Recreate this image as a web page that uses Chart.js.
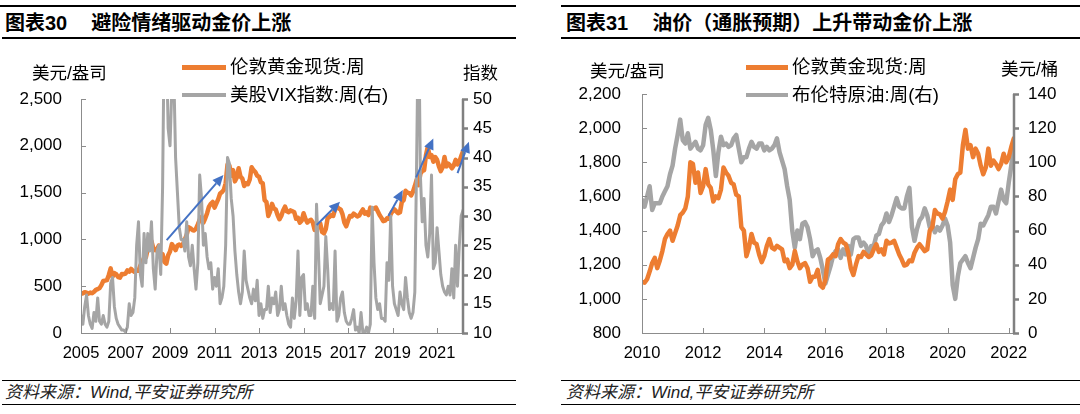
<!DOCTYPE html>
<html>
<head>
<meta charset="utf-8">
<script src="https://cdn.jsdelivr.net/npm/chart.js@4.4.1/dist/chart.umd.min.js"></script>
<style>
  body { margin: 0; width: 1080px; height: 414px; background: #fff; position: relative; overflow: hidden;
         font-family: "Liberation Sans", "Noto Sans CJK SC", sans-serif; color: #000; }
  .abs { position: absolute; white-space: nowrap; }
  .rule { position: absolute; background: #000; }
  .title { font-weight: bold; font-size: 20px; line-height: 20px; }
  .unit { font-size: 17.5px; line-height: 18px; }
  .leg { font-size: 18.5px; line-height: 20px; }
  .src { font-style: italic; font-size: 17px; line-height: 18px; color: #222; }
  canvas { position: absolute; }
</style>
</head>
<body>

<!-- left panel -->
<div class="rule" style="left:0;top:5px;width:516px;height:2px"></div>
<div class="abs title" style="left:5px;top:13px">图表30<span style="margin-left:24px">避险情绪驱动金价上涨</span></div>
<div class="rule" style="left:2px;top:37px;width:514px;height:1.5px"></div>
<canvas id="goldVix" width="520" height="330" style="left:0;top:40px"></canvas>
<div class="abs unit" style="left:32px;top:64px">美元/盎司</div>
<div class="abs unit" style="left:463px;top:64px">指数</div>
<div class="abs" style="left:182px;top:64.5px;width:44px;height:5px;background:#ED7D31"></div>
<div class="abs leg" style="left:230px;top:57px">伦敦黄金现货:周</div>
<div class="abs" style="left:182px;top:93px;width:44px;height:4px;background:#A5A5A5"></div>
<div class="abs leg" style="left:230px;top:85px">美股VIX指数:周(右)</div>
<div class="rule" style="left:2px;top:379.5px;width:514px;height:1.5px"></div>
<div class="abs src" style="left:5px;top:384px">资料来源：Wind,平安证券研究所</div>
<div class="rule" style="left:2px;top:403.5px;width:514px;height:1.5px"></div>

<!-- right panel -->
<div class="rule" style="left:561px;top:5px;width:519px;height:2px"></div>
<div class="abs title" style="left:566px;top:13px">图表31<span style="margin-left:24px">油价（通胀预期）上升带动金价上涨</span></div>
<div class="rule" style="left:561px;top:37px;width:519px;height:1.5px"></div>
<canvas id="goldOil" width="520" height="330" style="left:560px;top:40px"></canvas>
<div class="abs unit" style="left:590px;top:62px">美元/盎司</div>
<div class="abs unit" style="left:1001px;top:60px">美元/桶</div>
<div class="abs" style="left:746px;top:64.5px;width:42px;height:5px;background:#ED7D31"></div>
<div class="abs leg" style="left:792px;top:57px">伦敦黄金现货:周</div>
<div class="abs" style="left:746px;top:93px;width:42px;height:4px;background:#A5A5A5"></div>
<div class="abs leg" style="left:792px;top:85px">布伦特原油:周(右)</div>
<div class="rule" style="left:561px;top:379.5px;width:519px;height:1.5px"></div>
<div class="abs src" style="left:566px;top:384px">资料来源：Wind,平安证券研究所</div>
<div class="rule" style="left:561px;top:403.5px;width:519px;height:1.5px"></div>

<script>
// monthly samples, first value = Jan 2005
const goldStart = 2005;
const gold = [
  427, 422, 436, 430, 420, 432, 425, 440, 460, 468, 480, 512,
  555, 560, 565, 620, 690, 600, 640, 628, 598, 592, 630, 628,
  635, 668, 655, 685, 664, 652, 668, 665, 720, 760, 800, 810,
  900, 930, 980, 905, 885, 895, 935, 830, 840, 760, 740, 830,
  870, 950, 920, 885, 935, 945, 930, 950, 1000, 1050, 1130, 1120,
  1100, 1095, 1115, 1160, 1210, 1240, 1180, 1225, 1280, 1350, 1380, 1400,
  1340, 1385, 1430, 1490, 1505, 1530, 1600, 1800, 1790, 1680, 1740, 1620,
  1660, 1760, 1670, 1650, 1570, 1600, 1590, 1640, 1770, 1740, 1720, 1680,
  1670, 1610, 1600, 1420, 1400, 1250, 1300, 1380, 1330, 1320, 1260, 1215,
  1250, 1310, 1350, 1300, 1290, 1310, 1300, 1290, 1220, 1230, 1180, 1200,
  1280, 1220, 1180, 1200, 1210, 1180, 1100, 1130, 1130, 1170, 1080, 1065,
  1110, 1230, 1240, 1260, 1250, 1320, 1350, 1330, 1320, 1270, 1180, 1140,
  1200, 1250, 1245, 1275, 1260, 1245, 1255, 1290, 1320, 1275, 1290, 1260,
  1340, 1325, 1330, 1340, 1300, 1260, 1230, 1195, 1200, 1225, 1220, 1270,
  1300, 1320, 1300, 1280, 1290, 1400, 1420, 1520, 1500, 1495, 1470, 1510,
  1570, 1640, 1580, 1700, 1730, 1740, 1900, 1990, 1880, 1900, 1830, 1880,
  1850, 1780, 1730, 1770, 1880, 1780, 1810, 1790, 1760, 1790, 1850, 1800,
  1830, 1890, 1940
];
const vix = [
  13, 11.5, 14.5, 16.5, 13, 11.5, 10.8, 13.5, 12, 16, 12, 11.5,
  13, 11.5, 11, 12, 18.5, 19.5, 14.5, 12.5, 11.5, 11, 10.5, 10.5,
  10.2, 11, 15, 13, 13.5, 16, 25, 29, 20, 18, 27, 22,
  27, 24, 29, 21, 17.5, 24, 25, 20, 35, 65, 60, 45,
  42, 52, 55, 40, 34, 28, 26, 26, 24, 29, 23, 21.5,
  25, 21, 17.5, 22, 37, 33, 25, 27, 23, 21, 22, 17.5,
  19.5, 18, 21, 15, 16, 18, 25, 40, 39, 33, 30, 24,
  20, 17, 15, 17, 24, 19, 17.5, 16, 15, 17.5, 15.5, 19,
  13, 15, 12.5, 14, 14, 18, 13.5, 16, 15, 17, 13, 14,
  18, 14, 15, 13, 11.5, 11, 16, 12.5, 15.5, 24, 13, 19.5,
  20, 14, 15, 13, 13, 18, 12.5, 32, 24, 15, 16.5, 18,
  26.5, 21, 14, 15, 14, 24, 12, 13, 16, 17, 13.5, 12,
  11.5, 11.5, 12.5, 14, 10.5, 11, 10, 13.5, 10, 10, 11, 10,
  11.5, 31.5, 22, 16, 14, 15, 12.5, 12.5, 12, 22, 19, 30,
  18, 15, 14, 13, 17, 15, 14, 19.5, 16, 13.5, 12.5, 13.5,
  17, 40, 66, 37, 29, 33, 25, 23, 27, 37, 21, 22,
  28, 24, 20, 18, 17, 16.5, 18, 16.5, 21, 16, 25, 18,
  25, 30, 31
];
// monthly samples, first value = Jan 2010
const brentStart = 2010;
const brent = [
  78, 74, 80, 86, 72, 76, 76, 76, 80, 83, 86, 93,
  98, 108, 116, 125, 113, 111, 117, 108, 110, 112, 108, 107,
  110, 122, 126, 119, 107, 92, 106, 115, 110, 111, 109, 110,
  114, 116, 108, 100, 103, 103, 108, 112, 109, 108, 111, 111,
  107, 109, 107, 108, 110, 114, 106, 101, 96, 86, 78, 60,
  50, 60, 55, 64, 65, 62, 55, 45, 48, 49, 44, 37,
  29, 34, 39, 45, 48, 49, 44, 49, 46, 51, 46, 55,
  56, 56, 51, 53, 51, 45, 51, 51, 57, 58, 63, 65,
  70, 65, 69, 74, 79, 74, 73, 73, 80, 85, 62, 54,
  61, 66, 68, 73, 69, 62, 63, 59, 62, 60, 63, 67,
  63, 53, 28, 20, 33, 41, 43, 45, 41, 38, 44, 50,
  55, 64, 63, 66, 69, 74, 74, 70, 77, 84, 78, 76,
  88, 98, 111
];

const leftYears = [2005, 2007, 2009, 2011, 2013, 2015, 2017, 2019, 2021];
const leftGoldTicks = [0, 500, 1000, 1500, 2000, 2500];
const vixTicks = [10, 15, 20, 25, 30, 35, 40, 45, 50];
const rightYears = [2010, 2012, 2014, 2016, 2018, 2020, 2022];
const rightGoldTicks = [800, 1000, 1200, 1400, 1600, 1800, 2000, 2200];
const brentTicks = [0, 20, 40, 60, 80, 100, 120, 140];

// blue arrows on the left chart: [fromYear, fromGold, toYear, toGold]
const arrows = [
  [2008.85, 993, 2011.40, 1687],
  [2015.59, 1153, 2016.64, 1402],
  [2018.81, 1250, 2019.46, 1527],
  [2020.06, 1663, 2020.83, 2079],
  [2021.92, 1709, 2022.43, 2043]
];

const ORANGE = '#ED7D31';
const GRAY = '#A5A5A5';
const xFont = { family: 'Liberation Sans', size: 16.5 };
const yFont = { family: 'Liberation Sans', size: 17 };

function monthly(arr, start) {
  return arr.map((v, i) => ({ x: start + i / 12, y: v }));
}

function fixedTicks(list) {
  return scale => { scale.ticks = list.map(v => ({ value: v })); };
}

function axis(pos, min, max, list, width, padding, fmt) {
  return {
    position: pos, min, max,
    afterBuildTicks: fixedTicks(list),
    afterFit: s => { s.width = width; },
    grid: { display: false, drawTicks: false },
    border: { display: false },
    ticks: { font: yFont, color: '#000', padding, callback: fmt }
  };
}

function xAxis(min, max, list) {
  return {
    type: 'linear', min, max,
    afterBuildTicks: fixedTicks(list),
    afterFit: s => { s.height = 37; },
    grid: { display: false, drawTicks: false },
    border: { display: false },
    ticks: { font: xFont, color: '#000', padding: 11, maxRotation: 0, autoSkip: false, callback: v => String(v) }
  };
}

const comma = v => v.toLocaleString('en-US');

// axis lines and short tick marks like the Excel original
const axesPlugin = {
  id: 'axesLines',
  afterDatasetsDraw(chart) {
    const ctx = chart.ctx, a = chart.chartArea;
    const x = chart.scales.x, yl = chart.scales.y, yr = chart.scales.y1;
    ctx.save();
    ctx.strokeStyle = '#8c8c8c';
    ctx.lineWidth = 1;
    ctx.beginPath();
    ctx.moveTo(a.left, a.bottom + 0.5); ctx.lineTo(a.right, a.bottom + 0.5);
    ctx.moveTo(a.left + 0.5, a.top); ctx.lineTo(a.left + 0.5, a.bottom);
    x.ticks.forEach(t => {
      const px = Math.round(x.getPixelForValue(t.value)) + 0.5;
      ctx.moveTo(px, a.bottom); ctx.lineTo(px, a.bottom - 5);
    });
    yl.ticks.forEach(t => {
      const py = Math.round(yl.getPixelForValue(t.value)) + 0.5;
      ctx.moveTo(a.left, py); ctx.lineTo(a.left + 5, py);
    });
    ctx.stroke();
    ctx.strokeStyle = '#808080';
    ctx.lineWidth = 2.5;
    ctx.beginPath();
    ctx.moveTo(a.right + 1, a.top); ctx.lineTo(a.right + 1, a.bottom + 1);
    yr.ticks.forEach(t => {
      const py = Math.round(yr.getPixelForValue(t.value)) + 0.5;
      ctx.moveTo(a.right, py); ctx.lineTo(a.right + 6, py);
    });
    ctx.stroke();
    ctx.restore();
  }
};

const arrowPlugin = {
  id: 'arrows',
  afterDraw(chart) {
    const ctx = chart.ctx, x = chart.scales.x, y = chart.scales.y;
    ctx.save();
    ctx.strokeStyle = '#4472C4';
    ctx.fillStyle = '#4472C4';
    ctx.lineWidth = 2;
    arrows.forEach(([x0, y0, x1, y1]) => {
      const ax = x.getPixelForValue(x0), ay = y.getPixelForValue(y0);
      const bx = x.getPixelForValue(x1), by = y.getPixelForValue(y1);
      const ang = Math.atan2(by - ay, bx - ax);
      const len = 11, half = 5;
      const hx = bx - len * Math.cos(ang), hy = by - len * Math.sin(ang);
      ctx.beginPath();
      ctx.moveTo(ax, ay); ctx.lineTo(hx, hy);
      ctx.stroke();
      ctx.beginPath();
      ctx.moveTo(bx, by);
      ctx.lineTo(hx + half * Math.sin(ang), hy - half * Math.cos(ang));
      ctx.lineTo(hx - half * Math.sin(ang), hy + half * Math.cos(ang));
      ctx.closePath();
      ctx.fill();
    });
    ctx.restore();
  }
};

const lineStyle = (color, width) => ({
  borderColor: color, borderWidth: width, pointRadius: 0, tension: 0,
  borderJoinStyle: 'round', borderCapStyle: 'round', fill: false
});

const common = {
  responsive: false,
  animation: false,
  events: [],
  plugins: { legend: { display: false }, tooltip: { enabled: false } }
};

new Chart(document.getElementById('goldVix'), {
  type: 'line',
  data: {
    datasets: [
      Object.assign({ label: '美股VIX指数:周(右)', data: monthly(vix, goldStart), yAxisID: 'y1' }, lineStyle(GRAY, 3)),
      Object.assign({ label: '伦敦黄金现货:周', data: monthly(gold, goldStart), yAxisID: 'y' }, lineStyle(ORANGE, 4.5))
    ]
  },
  options: Object.assign({}, common, {
    layout: { padding: { top: 59, left: 0, right: 0, bottom: 0 } },
    scales: {
      x: xAxis(2005, 2022.12, leftYears),
      y: axis('left', 0, 2500, leftGoldTicks, 81, 19, comma),
      y1: axis('right', 10, 50, vixTicks, 58, 11, v => String(v))
    }
  }),
  plugins: [axesPlugin, arrowPlugin]
});

new Chart(document.getElementById('goldOil'), {
  type: 'line',
  data: {
    datasets: [
      Object.assign({ label: '伦敦黄金现货:周', data: monthly(gold, goldStart).filter(p => p.x >= brentStart - 0.001), yAxisID: 'y' }, lineStyle(ORANGE, 4.5)),
      Object.assign({ label: '布伦特原油:周(右)', data: monthly(brent, brentStart), yAxisID: 'y1' }, lineStyle(GRAY, 4.5))
    ]
  },
  options: Object.assign({}, common, {
    layout: { padding: { top: 54, left: 0, right: 0, bottom: 0 } },
    scales: {
      x: xAxis(2010, 2022.14, rightYears),
      y: axis('left', 800, 2200, rightGoldTicks, 82, 21, comma),
      y1: axis('right', 0, 140, brentTicks, 67, 15, v => String(v))
    }
  }),
  plugins: [axesPlugin]
});
</script>
</body>
</html>
